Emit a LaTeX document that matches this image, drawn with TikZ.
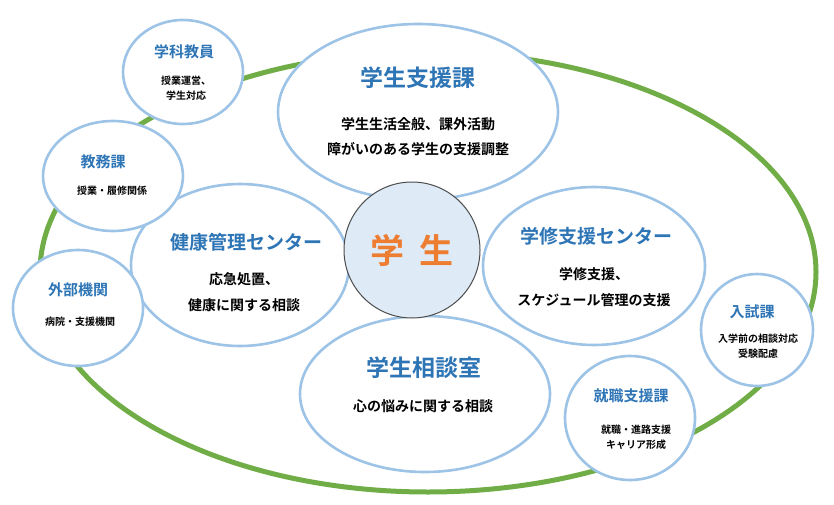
\documentclass[tikz,border=0pt]{standalone}
\usepackage{fontspec}
\setmainfont{Noto Sans CJK JP}[BoldFont={* Bold}]
\usetikzlibrary{shapes.geometric}
\definecolor{ttl}{HTML}{2E75B6}
\definecolor{rim}{HTML}{9DC3E6}
\definecolor{grn}{HTML}{70AD47}
\definecolor{org}{HTML}{ED7D31}
\definecolor{ctr}{HTML}{DEEBF7}
\tikzset{
  bub/.style={ellipse,draw=rim,line width=2.6pt,fill=white,inner sep=0pt},
  tt/.style={text=ttl,font=\bfseries},
  bd/.style={font=\bfseries,align=center},
}
\begin{document}
\begin{tikzpicture}[x=1pt,y=-1pt]
\useasboundingbox (0,0) rectangle (834,505);
\draw[grn,line width=5pt] (428,272) ellipse [x radius=388, y radius=220];
% big bubbles
\node[bub,minimum width=280,minimum height=176] (shien) at (418,112) {};
\node[tt,font=\bfseries\fontsize{23}{26}\selectfont] at (418,78) {学生支援課};
\node[bd,font=\bfseries\fontsize{14}{25}\selectfont] at (418,137) {学生生活全般、課外活動\\障がいのある学生の支援調整};
\node[bub,minimum width=222,minimum height=158] (gakushu) at (594,266) {};
\node[tt,font=\bfseries\fontsize{19}{22}\selectfont] at (596,236) {学修支援センター};
\node[bd,font=\bfseries\fontsize{14}{26}\selectfont] at (594,287) {学修支援、\\スケジュール管理の支援};
\node[bub,minimum width=218,minimum height=162] (kenko) at (240,265) {};
\node[tt,font=\bfseries\fontsize{19}{22}\selectfont] at (246,242) {健康管理センター};
\node[bd,font=\bfseries\fontsize{14}{26}\selectfont] at (244,292) {応急処置、\\健康に関する相談};
\node[bub,minimum width=250,minimum height=156] (sodan) at (425,394) {};
\node[tt,font=\bfseries\fontsize{23}{26}\selectfont] at (424,368) {学生相談室};
\node[bd,font=\bfseries\fontsize{14}{18}\selectfont] at (423,406) {心の悩みに関する相談};
% small bubbles
\node[bub,minimum width=120,minimum height=104] (kyoin) at (183,72) {};
\node[tt,font=\bfseries\fontsize{15}{18}\selectfont] at (184,52) {学科教員};
\node[bd,font=\bfseries\fontsize{10}{15}\selectfont] at (186,88) {授業運営、\\学生対応};
\node[bub,minimum width=140,minimum height=110] (kyomu) at (113,176) {};
\node[tt,font=\bfseries\fontsize{15}{18}\selectfont] at (103,162) {教務課};
\node[bd,font=\bfseries\fontsize{10}{14}\selectfont] at (112,191) {授業・履修関係};
\node[bub,minimum width=130,minimum height=116] (gaibu) at (78,308) {};
\node[tt,font=\bfseries\fontsize{15}{18}\selectfont] at (78,290) {外部機関};
\node[bd,font=\bfseries\fontsize{10}{14}\selectfont] at (80,322) {病院・支援機関};
\node[bub,minimum width=112,minimum height=112] (nyushi) at (757,330) {};
\node[tt,font=\bfseries\fontsize{15}{18}\selectfont] at (752,312) {入試課};
\node[bd,font=\bfseries\fontsize{10}{15}\selectfont] at (758,346) {入学前の相談対応\\受験配慮};
\node[bub,minimum width=130,minimum height=124] (shushoku) at (630,418) {};
\node[tt,font=\bfseries\fontsize{15}{18}\selectfont] at (631,396) {就職支援課};
\node[bd,font=\bfseries\fontsize{10}{15}\selectfont] at (636,437) {就職・進路支援\\キャリア形成};
% center
\node[circle,draw=black!70,line width=1pt,fill=ctr,minimum size=136,inner sep=0pt] (gakusei) at (412,250) {};
\node[text=org,font=\bfseries\fontsize{34}{38}\selectfont] at (412,250) {学\hspace{0.45em}生};
\end{tikzpicture}
\end{document}
